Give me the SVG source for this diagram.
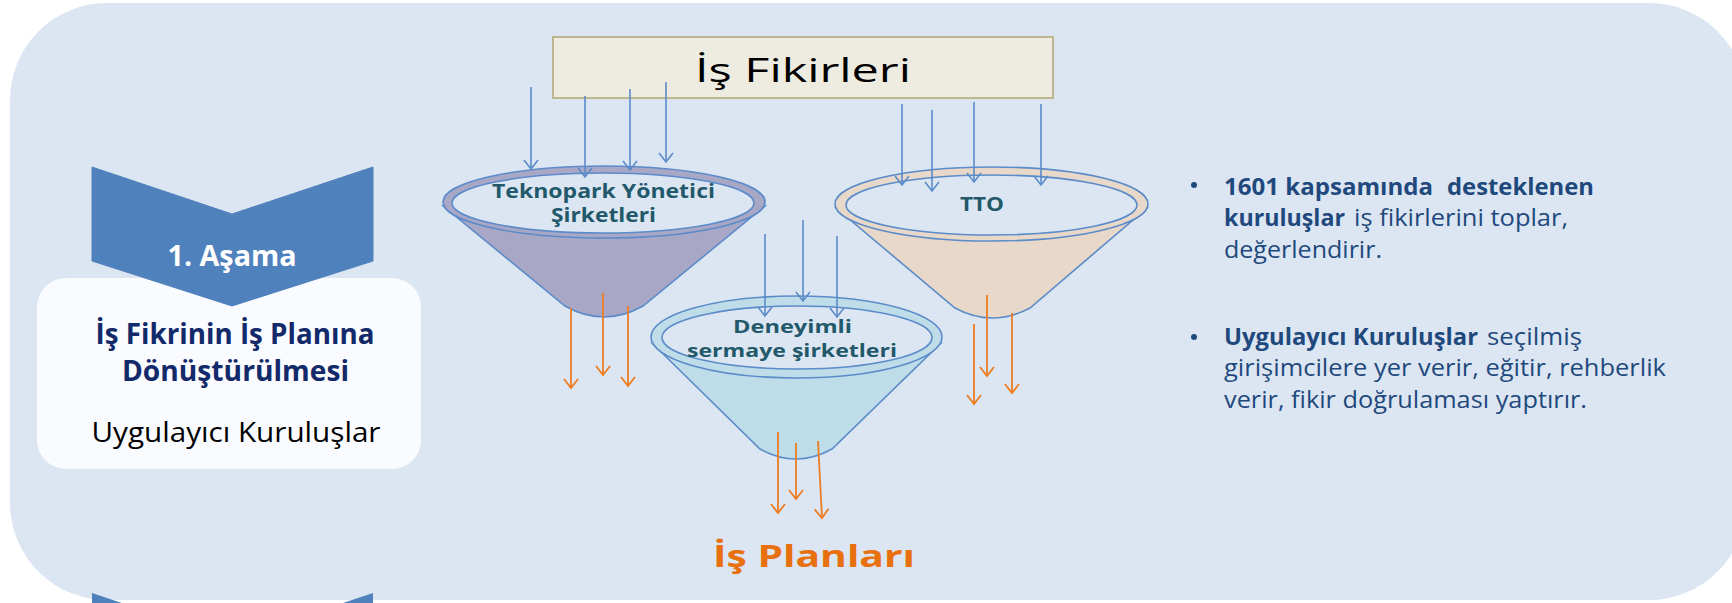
<svg xmlns="http://www.w3.org/2000/svg" width="1732" height="603" viewBox="0 0 1732 603">
  <style>
    .os { font-family: "Open Sans", "Liberation Sans", sans-serif; }
    .funnel-line { stroke: #5B8BC9; stroke-width: 1.6; }
    .inner { fill: #DCE6F2; stroke: #5B8BC9; stroke-width: 1.6; }
    .flabel { font-family: "Open Sans", "Liberation Sans", sans-serif; font-weight: 700; fill: #22596A; text-anchor: middle; }
    .blue { stroke: #5B8BC9; stroke-width: 1.6; fill: none; marker-end: url(#ahBlue); }
    .orange { stroke: #ED7D22; stroke-width: 1.8; fill: none; marker-end: url(#ahOrange); }
    .bul { font-family: "Open Sans", "Liberation Sans", sans-serif; font-size: 23px; fill: #1F497D; }
    .bold { font-weight: 700; }
  </style>
  <defs>
    <marker id="ahBlue" viewBox="-10 -8 12 16" refX="0" refY="0" markerWidth="12" markerHeight="16" markerUnits="userSpaceOnUse" orient="auto">
      <path d="M-9,-7 L0,0 L-9,7" fill="none" stroke="#5B8BC9" stroke-width="1.6"/>
    </marker>
    <marker id="ahOrange" viewBox="-10 -8 12 16" refX="0" refY="0" markerWidth="12" markerHeight="16" markerUnits="userSpaceOnUse" orient="auto">
      <path d="M-9,-7 L0,0 L-9,7" fill="none" stroke="#ED7D22" stroke-width="1.8"/>
    </marker>
  </defs>

  <rect x="0" y="0" width="1732" height="603" fill="#FFFFFF"/>
  <rect id="background" x="10" y="3" width="1736" height="597" rx="97" ry="97" fill="#DCE6F2"/>

  <g id="stage-box">
    <rect x="37" y="278" width="384" height="191" rx="29" ry="29" fill="#F9FBFE"/>
    <text class="os" x="235" y="344" font-size="29" font-weight="700" fill="#12296A" text-anchor="middle" textLength="279" lengthAdjust="spacingAndGlyphs">İş Fikrinin İş Planına</text>
    <text class="os" x="235.5" y="381" font-size="29" font-weight="700" fill="#12296A" text-anchor="middle" textLength="227" lengthAdjust="spacingAndGlyphs">Dönüştürülmesi</text>
    <text class="os" x="236" y="442" font-size="27" fill="#000000" text-anchor="middle" textLength="289" lengthAdjust="spacingAndGlyphs">Uygulayıcı Kuruluşlar</text>
  </g>

  <g id="chevron-1">
    <polygon points="92,167 232,214 373,167 373,261 232,306 92,261" fill="#4F81BD" stroke="#4F81BD" stroke-width="1" stroke-linejoin="round"/>
    <text class="os" x="232" y="266" font-size="28" font-weight="700" fill="#FFFFFF" text-anchor="middle" textLength="129" lengthAdjust="spacingAndGlyphs">1. Aşama</text>
  </g>

  <g id="chevron-2">
    <polygon points="92,593 232,640 373,593 373,687 232,732 92,687" fill="#4F81BD"/>
  </g>

  <g id="is-fikirleri">
    <rect x="553" y="37" width="500" height="61" fill="#EEECE1" stroke="#BDB68E" stroke-width="2"/>
    <text class="os" x="803" y="82" font-size="33" fill="#000000" text-anchor="middle" textLength="216" lengthAdjust="spacingAndGlyphs">İş Fikirleri</text>
  </g>

  <g id="funnel-teknopark">
    <path class="funnel-line" d="M443,206 L565,306 Q604,328 643,306 L765,206 Z" fill="#A9A7C6"/>
    <ellipse class="funnel-line" cx="604" cy="202" rx="161" ry="36" fill="#A9A7C6"/>
    <ellipse class="inner" cx="603" cy="203" rx="151" ry="30"/>
    <text class="flabel" x="603.5" y="198" font-size="19" textLength="223" lengthAdjust="spacingAndGlyphs">Teknopark Yönetici</text>
    <text class="flabel" x="603.5" y="222" font-size="19" textLength="105" lengthAdjust="spacingAndGlyphs">Şirketleri</text>
  </g>

  <g id="funnel-tto">
    <path class="funnel-line" d="M836,208 L955,308 Q992,328 1030,308 L1147,208 Z" fill="#E7D8C9"/>
    <ellipse class="funnel-line" cx="991.5" cy="204" rx="156.5" ry="37" fill="#E7D8C9"/>
    <ellipse class="inner" cx="991.5" cy="205" rx="145.5" ry="30"/>
    <text class="flabel" x="982" y="211" font-size="19" textLength="44" lengthAdjust="spacingAndGlyphs">TTO</text>
  </g>

  <g id="funnel-deneyimli">
    <path class="funnel-line" d="M652,343 L760,449 Q796,469 832,449 L941,343 Z" fill="#BFDDE8"/>
    <ellipse class="funnel-line" cx="796.5" cy="337" rx="145.5" ry="41" fill="#BFDDE8"/>
    <ellipse class="inner" cx="797" cy="337.5" rx="135" ry="31.5"/>
    <text class="flabel" x="792.5" y="333" font-size="18" textLength="119" lengthAdjust="spacingAndGlyphs">Deneyimli</text>
    <text class="flabel" x="792" y="357" font-size="18" textLength="210" lengthAdjust="spacingAndGlyphs">sermaye şirketleri</text>
  </g>

  <g id="is-planlari">
    <text class="os" x="814" y="567" font-size="30" font-weight="700" fill="#E8700F" text-anchor="middle" textLength="202" lengthAdjust="spacingAndGlyphs">İş Planları</text>
  </g>

  <g id="bullets">
    <circle cx="1194" cy="185" r="3" fill="#1F497D"/>
    <text class="bul bold" x="1224" y="195" textLength="209" lengthAdjust="spacingAndGlyphs">1601 kapsamında</text>
    <text class="bul bold" x="1447" y="195" textLength="147" lengthAdjust="spacingAndGlyphs">desteklenen</text>
    <text class="bul bold" x="1224" y="226" textLength="121" lengthAdjust="spacingAndGlyphs">kuruluşlar</text>
    <text class="bul" x="1354" y="226" textLength="214" lengthAdjust="spacingAndGlyphs">iş fikirlerini toplar,</text>
    <text class="bul" x="1224" y="258" textLength="158" lengthAdjust="spacingAndGlyphs">değerlendirir.</text>

    <circle cx="1194" cy="337" r="3" fill="#1F497D"/>
    <text class="bul bold" x="1224" y="345" textLength="254" lengthAdjust="spacingAndGlyphs">Uygulayıcı Kuruluşlar</text>
    <text class="bul" x="1487" y="345" textLength="95" lengthAdjust="spacingAndGlyphs">seçilmiş</text>
    <text class="bul" x="1224" y="376" textLength="442" lengthAdjust="spacingAndGlyphs">girişimcilere yer verir, eğitir, rehberlik</text>
    <text class="bul" x="1224" y="408" textLength="363" lengthAdjust="spacingAndGlyphs">verir, fikir doğrulaması yaptırır.</text>
  </g>

  <g id="connectors">
    <line class="blue" x1="531" y1="87" x2="531" y2="169"/>
    <line class="blue" x1="585" y1="96" x2="585" y2="177"/>
    <line class="blue" x1="630" y1="89" x2="630" y2="170"/>
    <line class="blue" x1="666" y1="82" x2="666" y2="162"/>

    <line class="blue" x1="902" y1="104" x2="902" y2="185"/>
    <line class="blue" x1="932" y1="110" x2="932" y2="191"/>
    <line class="blue" x1="974" y1="102" x2="974" y2="182"/>
    <line class="blue" x1="1041" y1="104" x2="1041" y2="185"/>

    <line class="blue" x1="765" y1="234" x2="765" y2="316"/>
    <line class="blue" x1="803" y1="220" x2="803" y2="301"/>
    <line class="blue" x1="837" y1="236" x2="837" y2="317"/>

    <line class="orange" x1="571" y1="308" x2="571" y2="388"/>
    <line class="orange" x1="603" y1="293" x2="603" y2="375"/>
    <line class="orange" x1="628" y1="306" x2="628" y2="386"/>

    <line class="orange" x1="987" y1="295" x2="987" y2="376"/>
    <line class="orange" x1="974" y1="324" x2="974" y2="404"/>
    <line class="orange" x1="1012" y1="313" x2="1012" y2="393"/>

    <line class="orange" x1="778" y1="432" x2="778" y2="513"/>
    <line class="orange" x1="796" y1="443" x2="796" y2="499"/>
    <line class="orange" x1="818" y1="441" x2="822" y2="518"/>
  </g>
</svg>
